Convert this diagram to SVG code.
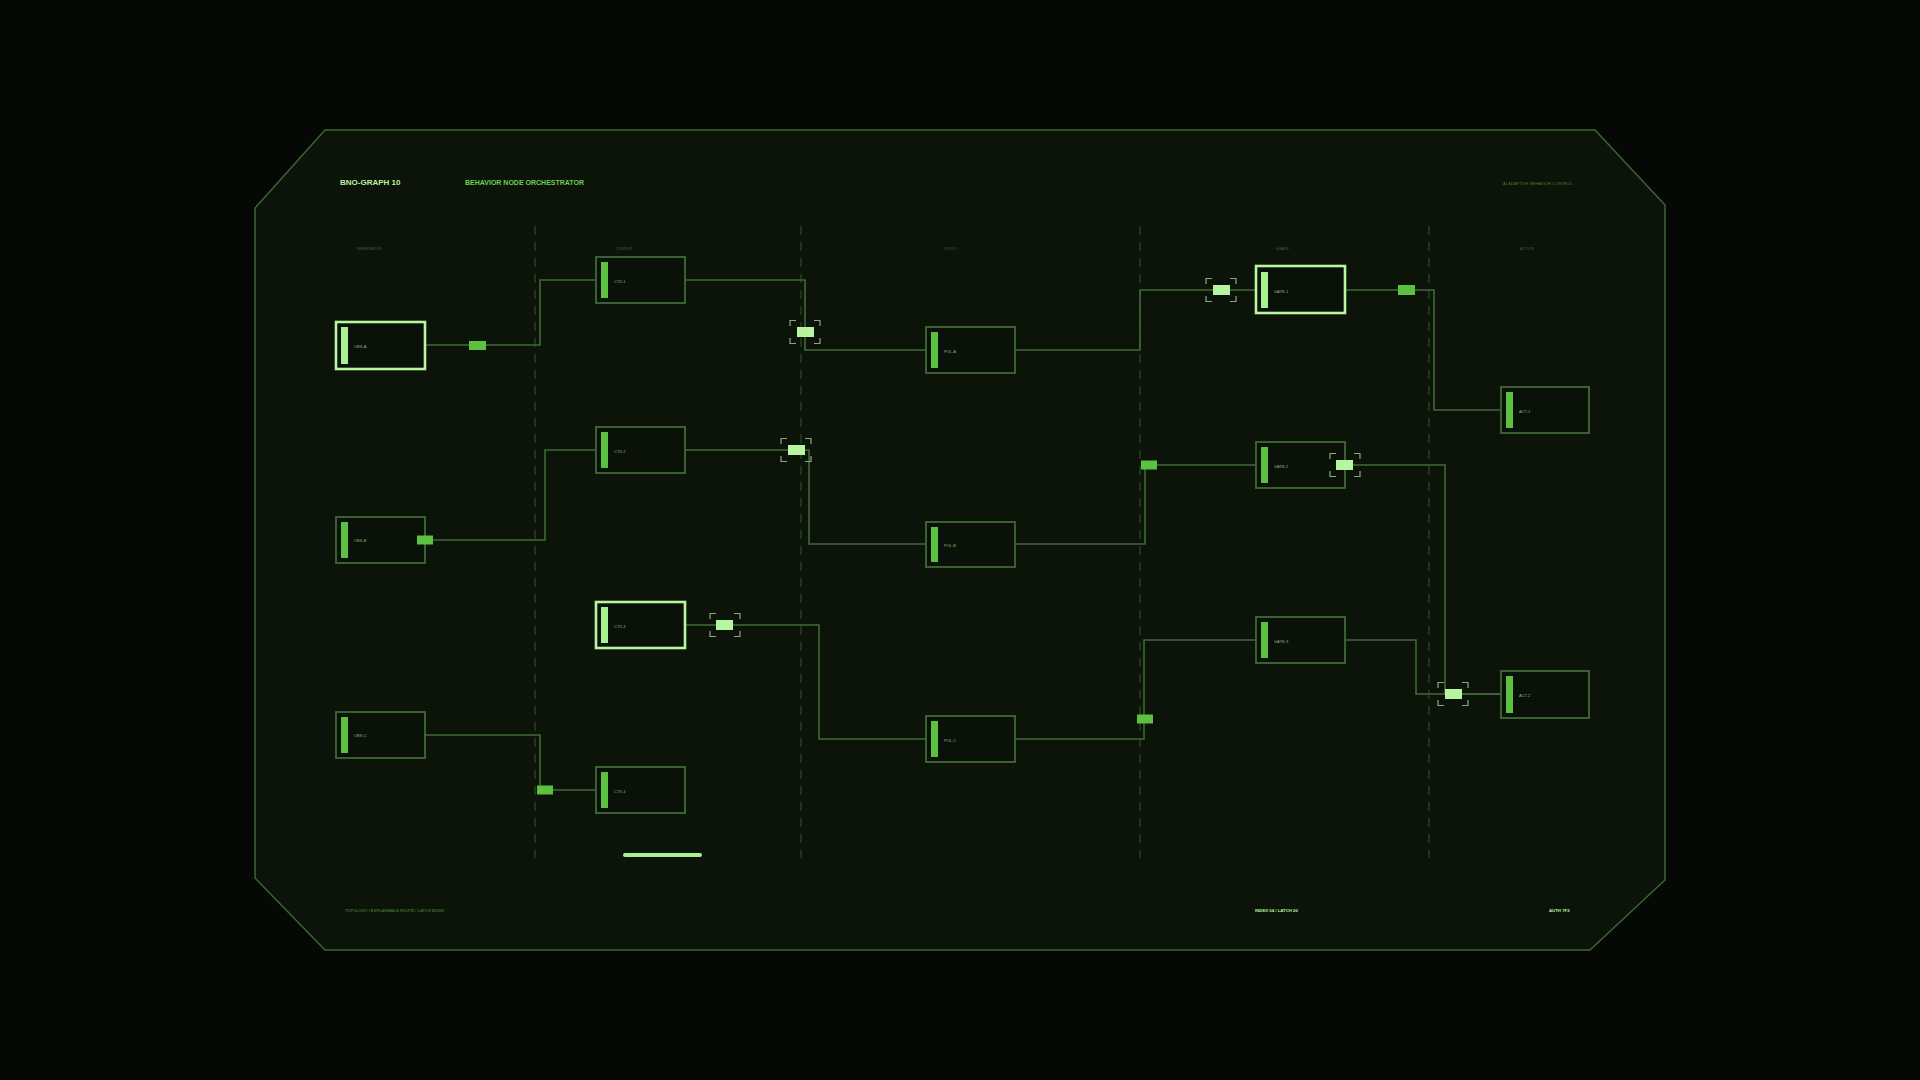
<svg xmlns="http://www.w3.org/2000/svg" width="1920" height="1080" viewBox="0 0 1920 1080">
<defs>
<style>
.bg{fill:#050805}
.panel{fill:#0c1409;stroke:#3b6632;stroke-width:1.5}
.div{stroke:#2c4a25;stroke-width:1.2;stroke-dasharray:9 7;fill:none}
.node{fill:#0a1108;stroke:#3f6a36;stroke-width:1.8}
.node.hl{stroke:#b8f5a0;stroke-width:2.6}
.bar{fill:#5cc040}
.bar.hl{fill:#a8f090}
.lbl{font-family:"Liberation Sans",Arial,sans-serif;font-size:4px;fill:#8ab87a}
.wire{fill:none;stroke:#3f6a36;stroke-width:1.6}
.mk{fill:#5cc040}
.mkh{fill:#b8f5a0}
.br{fill:none;stroke:#8aa880;stroke-width:1.2}
.col{font-family:"Liberation Sans",Arial,sans-serif;font-size:3.6px;fill:#42663a;text-anchor:middle}
.title{font-family:"Liberation Sans",Arial,sans-serif;font-weight:bold;font-size:8px;fill:#b8f5a0}
.sub{font-family:"Liberation Sans",Arial,sans-serif;font-weight:bold;font-size:7px;fill:#6ccf50}
.tiny{font-family:"Liberation Sans",Arial,sans-serif;font-size:4.2px;fill:#4a7a3a}
.foot{font-family:"Liberation Sans",Arial,sans-serif;font-weight:bold;font-size:4px;fill:#3f6a30}
.footl{font-family:"Liberation Sans",Arial,sans-serif;font-weight:bold;font-size:4.3px;fill:#b8f5a0}
</style>
<g id="brk">
<path class="br" d="M-15,-6 V-11.5 H-9 M9,-11.5 H15 V-6 M15,6 V11.5 H9 M-9,11.5 H-15 V6"/>
</g>
</defs>
<rect class="bg" x="0" y="0" width="1920" height="1080"/>
<polygon class="panel" points="325,130 1595,130 1665,205 1665,880 1590,950 325,950 255,878 255,208"/>

<text class="title" x="340" y="185">BNO-GRAPH 10</text>
<text class="sub" x="465" y="185">BEHAVIOR NODE ORCHESTRATOR</text>
<text class="tiny" x="1503" y="185">AI ADAPTIVE BEHAVIOR CONTROL</text>

<g id="columns">
<text class="col" x="369" y="250">OBSERVATION</text>
<text class="col" x="624" y="250">CONTEXT</text>
<text class="col" x="951" y="250">POLICY</text>
<text class="col" x="1282" y="250">GUARD</text>
<text class="col" x="1527" y="250">ACTION</text>
<line class="div" x1="535" y1="226" x2="535" y2="858"/>
<line class="div" x1="801" y1="226" x2="801" y2="858"/>
<line class="div" x1="1140" y1="226" x2="1140" y2="858"/>
<line class="div" x1="1429" y1="226" x2="1429" y2="858"/>
</g>

<g id="connectors">
<path class="wire" d="M425,345 H540 V280 H595"/>
<path class="wire" d="M685,280 H805 V350 H926"/>
<path class="wire" d="M425,540 H545 V450 H595"/>
<path class="wire" d="M685,450 H809 V544 H926"/>
<path class="wire" d="M685,625 H819 V739 H926"/>
<path class="wire" d="M425,735 H540 V790 H595"/>
<path class="wire" d="M1015,350 H1140 V290 H1256"/>
<path class="wire" d="M1015,544 H1145 V465 H1256"/>
<path class="wire" d="M1015,739 H1144 V640 H1256"/>
<path class="wire" d="M1345,290 H1434 V410 H1501"/>
<path class="wire" d="M1345,465 H1445 V694 H1501"/>
<path class="wire" d="M1345,640 H1416 V694 H1501"/>
</g>

<g id="obs-a"><rect class="node hl" x="336" y="322" width="89" height="47"/><rect class="bar hl" x="341" y="327" width="7" height="37"/><text class="lbl" x="354" y="348">OBS-A</text></g>
<g id="obs-b"><rect class="node" x="336" y="517" width="89" height="46"/><rect class="bar" x="341" y="522" width="7" height="36"/><text class="lbl" x="354" y="542">OBS-B</text></g>
<g id="obs-c"><rect class="node" x="336" y="712" width="89" height="46"/><rect class="bar" x="341" y="717" width="7" height="36"/><text class="lbl" x="354" y="737">OBS-C</text></g>

<g id="ctx-1"><rect class="node" x="596" y="257" width="89" height="46"/><rect class="bar" x="601" y="262" width="7" height="36"/><text class="lbl" x="614" y="283">CTX-1</text></g>
<g id="ctx-2"><rect class="node" x="596" y="427" width="89" height="46"/><rect class="bar" x="601" y="432" width="7" height="36"/><text class="lbl" x="614" y="453">CTX-2</text></g>
<g id="ctx-3"><rect class="node hl" x="596" y="602" width="89" height="46"/><rect class="bar hl" x="601" y="607" width="7" height="36"/><text class="lbl" x="614" y="628">CTX-3</text></g>
<g id="ctx-4"><rect class="node" x="596" y="767" width="89" height="46"/><rect class="bar" x="601" y="772" width="7" height="36"/><text class="lbl" x="614" y="793">CTX-4</text></g>

<g id="pol-a"><rect class="node" x="926" y="327" width="89" height="46"/><rect class="bar" x="931" y="332" width="7" height="36"/><text class="lbl" x="944" y="353">POL-A</text></g>
<g id="pol-b"><rect class="node" x="926" y="522" width="89" height="45"/><rect class="bar" x="931" y="527" width="7" height="35"/><text class="lbl" x="944" y="547">POL-B</text></g>
<g id="pol-c"><rect class="node" x="926" y="716" width="89" height="46"/><rect class="bar" x="931" y="721" width="7" height="36"/><text class="lbl" x="944" y="742">POL-C</text></g>

<g id="gate-1"><rect class="node hl" x="1256" y="266" width="89" height="47"/><rect class="bar hl" x="1261" y="272" width="7" height="36"/><text class="lbl" x="1274" y="293">GATE-1</text></g>
<g id="gate-2"><rect class="node" x="1256" y="442" width="89" height="46"/><rect class="bar" x="1261" y="447" width="7" height="36"/><text class="lbl" x="1274" y="468">GATE-2</text></g>
<g id="gate-3"><rect class="node" x="1256" y="617" width="89" height="46"/><rect class="bar" x="1261" y="622" width="7" height="36"/><text class="lbl" x="1274" y="643">GATE-3</text></g>

<g id="act-1"><rect class="node" x="1501" y="387" width="88" height="46"/><rect class="bar" x="1506" y="392" width="7" height="36"/><text class="lbl" x="1519" y="413">ACT-1</text></g>
<g id="act-2"><rect class="node" x="1501" y="671" width="88" height="47"/><rect class="bar" x="1506" y="676" width="7" height="37"/><text class="lbl" x="1519" y="697">ACT-2</text></g>

<g id="connector-markers">
<rect class="mk" x="469" y="341" width="17" height="9"/>
<rect class="mk" x="417" y="535.5" width="16" height="9"/>
<rect class="mk" x="537" y="785.5" width="16" height="9"/>
<rect class="mk" x="1141" y="460.5" width="16" height="9"/>
<rect class="mk" x="1137" y="714.5" width="16" height="9"/>
<rect class="mk" x="1398" y="285" width="17" height="10"/>
<rect class="mkh" x="797" y="327" width="17" height="10"/>
<use href="#brk" x="805" y="332"/>
<rect class="mkh" x="788" y="445" width="17" height="10"/>
<use href="#brk" x="796" y="450"/>
<rect class="mkh" x="716" y="620" width="17" height="10"/>
<use href="#brk" x="725" y="625"/>
<rect class="mkh" x="1213" y="285" width="17" height="10"/>
<use href="#brk" x="1221" y="290"/>
<rect class="mkh" x="1336" y="460" width="17" height="10"/>
<use href="#brk" x="1345" y="465"/>
<rect class="mkh" x="1445" y="689" width="17" height="10"/>
<use href="#brk" x="1453" y="694"/>
</g>

<line x1="625" y1="855" x2="700" y2="855" stroke="#a8f090" stroke-width="4" stroke-linecap="round"/>

<text class="foot" x="345" y="912">TOPOLOGY / EXPLAINABLE ROUTE / LATCH MODE</text>
<text class="footl" x="1255" y="912">INDEX 04 / LATCH 00</text>
<text class="footl" x="1549" y="912">AUTH 7F2</text>
</svg>
